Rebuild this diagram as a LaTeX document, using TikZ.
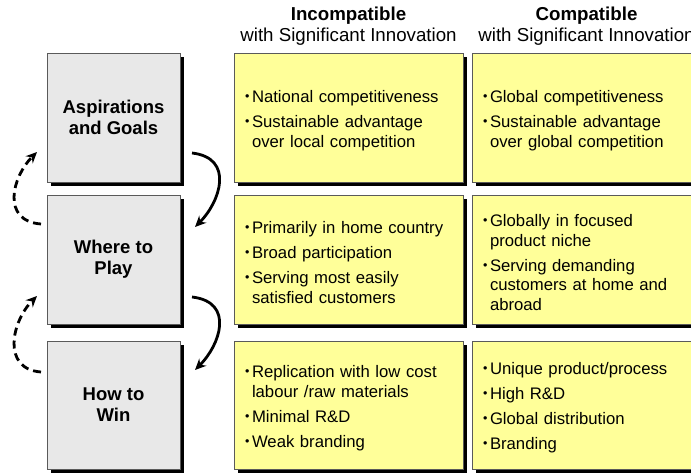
\documentclass[tikz,border=0pt]{standalone}
\usepackage{fontspec}
\setmainfont{Liberation Sans}
\usetikzlibrary{arrows.meta,shadows}

\definecolor{boxgray}{RGB}{232,232,232}
\definecolor{boxyellow}{RGB}{255,255,153}
\definecolor{edgegray}{RGB}{90,90,90}

% bullet items with a hanging indent
\newcommand{\bulletmark}{\makebox[7pt][l]{\raisebox{2pt}{\fontsize{12.5}{12.5}\selectfont •}}}
\newcommand{\itemfirst}[1]{\noindent\hangindent=7pt\hangafter=1\rule{0pt}{18pt}\bulletmark#1\par}
\newcommand{\itemnext}[1]{\vspace{5.5pt}\noindent\hangindent=7pt\hangafter=1\bulletmark#1\par}

\tikzset{
  panel/.style={draw=edgegray, line width=0.8pt, rectangle, anchor=north west,
    inner sep=0pt, outer sep=0pt,
    drop shadow={shadow xshift=4pt, shadow yshift=-4pt, fill=black, opacity=1}},
  stagebox/.style={panel, fill=boxgray, minimum width=133pt, minimum height=129pt,
    align=center, font=\bfseries\fontsize{18.5}{21}\selectfont},
  listbox/.style={panel, fill=boxyellow, minimum width=229pt, minimum height=129pt,
    inner xsep=11pt, text width=207pt, align=left,
    font=\fontsize{16.7}{19.5}\selectfont},
  headbold/.style={anchor=base, font=\bfseries\fontsize{18.7}{21}\selectfont},
  headplain/.style={anchor=base, font=\fontsize{18.7}{21}\selectfont},
  solidarrow/.style={line width=2.8pt, -{Stealth[length=11pt,width=10pt]}},
  backarrow/.style={line width=2.8pt, dash pattern=on 8pt off 5pt, -{Stealth[length=11pt,width=10pt]}},
}

\begin{document}
\begin{tikzpicture}[x=1pt, y=-1pt]
\useasboundingbox (0,0) rectangle (691,473);
\clip (0,0) rectangle (691,473);

% column headings
\node[headbold]  (h1a) at (348.5,21) {Incompatible};
\node[headplain] (h1b) at (348.5,42) {with Significant Innovation};
\node[headbold]  (h2a) at (586.5,21) {Compatible};
\node[headplain] (h2b) at (586.5,42) {with Significant Innovation};

% stage boxes
\node[stagebox] (g1) at (47,53)  {Aspirations\\and Goals};
\node[stagebox] (g2) at (47,195) {Where to\\Play};
\node[stagebox, minimum height=128pt] (g3) at (47,341) {How to\\Win};

% incompatible column
\node[listbox] (a1) at (234,53) {\itemfirst{National competitiveness}\itemnext{Sustainable advantage\newline over local competition}};
\node[listbox] (a2) at (234,195) {\itemfirst{Primarily in home country}\itemnext{Broad participation}\itemnext{Serving most easily\newline satisfied customers}};
\node[listbox, minimum height=128pt] (a3) at (234,341) {\itemfirst{Replication with low cost\newline labour /raw materials}\itemnext{Minimal R\&D}\itemnext{Weak branding}};

% compatible column
\node[listbox] (b1) at (472,53) {\itemfirst{Global competitiveness}\itemnext{Sustainable advantage\newline over global competition}};
\node[listbox] (b2) at (472,195) {\itemfirst{Globally in focused\newline product niche}\itemnext{Serving demanding\newline customers at home and\newline abroad}};
\node[listbox, minimum height=128pt] (b3) at (472,341) {\itemfirst{Unique product/process}\itemnext{High R\&D}\itemnext{Global distribution}\itemnext{Branding}};

% arrow end points beside the stage boxes
\coordinate (f1s) at ([xshift=12pt, yshift=29pt]g1.south east);
\coordinate (f1e) at ([xshift=15pt, yshift=-32pt]g2.north east);
\coordinate (f2s) at ([xshift=12pt, yshift=27pt]g2.south east);
\coordinate (f2e) at ([xshift=15pt, yshift=-29pt]g3.north east);
\coordinate (r1s) at ([xshift=-6pt, yshift=-29pt]g2.north west);
\coordinate (r1e) at ([xshift=-10pt, yshift=30pt]g1.south west);
\coordinate (r2s) at ([xshift=-6pt, yshift=-31pt]g3.north west);
\coordinate (r2e) at ([xshift=-10pt, yshift=28pt]g2.south west);

% forward (solid) and feedback (dashed) arrows
\draw[solidarrow] (f1s) .. controls +(43pt,-5pt) and +(25pt,25pt) .. (f1e);
\draw[solidarrow] (f2s) .. controls +(43pt,-5pt) and +(25pt,25pt) .. (f2e);
\draw[backarrow] (r1s) .. controls +(-40pt,3pt) and +(-25pt,-25pt) .. (r1e);
\draw[backarrow] (r2s) .. controls +(-40pt,3pt) and +(-25pt,-25pt) .. (r2e);
\end{tikzpicture}
\end{document}
